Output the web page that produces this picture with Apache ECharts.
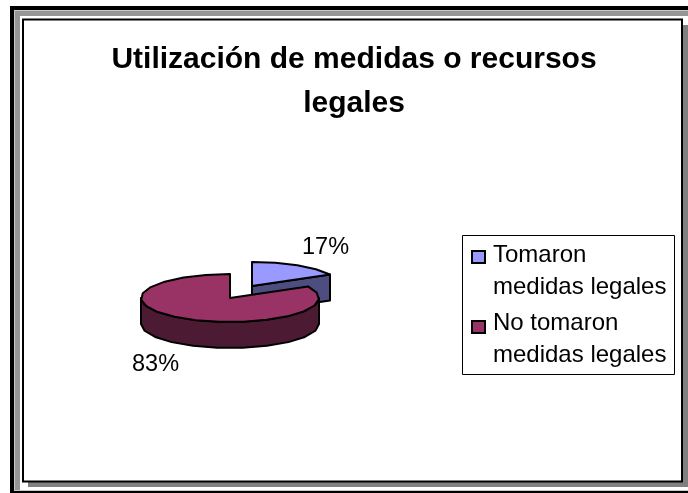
<!DOCTYPE html>
<html>
<head>
<meta charset="utf-8">
<style>
  html, body { margin: 0; padding: 0; background: #fff; }
  #chart { width: 688px; height: 493px; }
</style>
<script src="https://cdn.jsdelivr.net/npm/echarts@6/dist/echarts.min.js"></script>
</head>
<body>
<div id="chart"></div>
<script>
const titleText = 'Utilización de medidas o recursos\nlegales';
const categories = ['Tomaron\nmedidas legales', 'No tomaron\nmedidas legales'];
const values = [17, 83];
const topColors = ['#9999ff', '#993366'];
const sideColors = ['#4d4d80', '#4d1a33'];

const myChart = echarts.init(document.getElementById('chart'));

// pie geometry of the tilted disc
const cx = 230, cy = 298, rx = 89, ry = 24, depth = 26;
const explode = [{ dx: 22, dy: -12 }, { dx: 0, dy: 0 }];
const total = values.reduce((a, b) => a + b, 0);

// faceted rim, the original is a coarse polygon
function slicePoints(start, end, ox, oy) {
  const pts = [];
  const n = Math.max(2, Math.round((end - start) / 0.28));
  for (let i = 0; i <= n; i++) {
    const a = start + (end - start) * i / n;
    pts.push([ox + Math.sin(a) * rx, oy - Math.cos(a) * ry]);
  }
  return pts;
}

function renderSlice(params, api) {
  const i = params.dataIndex;
  const before = values.slice(0, i).reduce((a, b) => a + b, 0);
  const start = before / total * Math.PI * 2;
  const end = (before + api.value(0)) / total * Math.PI * 2;
  const ox = cx + explode[i].dx, oy = cy + explode[i].dy;
  const style = { stroke: '#000', lineWidth: 2, lineJoin: 'round' };
  const rim = slicePoints(start, end, ox, oy);
  const children = [];

  if (i === 0) {
    // cut wall of the small slice
    const last = rim[rim.length - 1];
    children.push({
      type: 'polygon',
      shape: { points: [[ox, oy], last, [last[0], last[1] + depth], [ox, oy + depth]] },
      style: { ...style, fill: sideColors[i] },
    });
  } else {
    // front wall, only the part facing the viewer
    const wall = slicePoints(Math.PI / 2, Math.PI * 1.5, ox, oy);
    children.push({
      type: 'polygon',
      shape: { points: wall.concat(wall.map((p) => [p[0], p[1] + depth]).reverse()) },
      style: { ...style, fill: sideColors[i] },
    });
  }
  children.push({
    type: 'polygon',
    shape: { points: [[ox, oy]].concat(rim) },
    style: { ...style, fill: topColors[i] },
  });
  return { type: 'group', children };
}

function bar(x, y, width, height, fill, z) {
  return { type: 'rect', silent: true, z: z, shape: { x, y, width, height }, style: { fill } };
}

const options = {
  backgroundColor: '#fff',
  animation: false,
  title: {
    text: titleText,
    left: 349,
    top: 33,
    textAlign: 'center',
    textStyle: {
      fontFamily: 'Liberation Sans',
      fontSize: 30,
      fontWeight: 'bold',
      color: '#000',
      lineHeight: 44,
    },
  },
  graphic: [
    // frame: black rule, light line, gray band, then the panel with its shadow
    bar(10, 6, 678, 487, '#000', -9),
    bar(14, 10, 674, 481, '#c8c8c8', -8),
    bar(15, 11, 673, 479, '#969696', -7),
    bar(20, 16, 668, 474, '#fff', -6),
    bar(28, 25, 660, 462, '#808080', -5),
    { type: 'rect', silent: true, z: -4, shape: { x: 23, y: 19.5, width: 659, height: 462 }, style: { fill: '#fff', stroke: '#000', lineWidth: 2 } },
    // legend box
    { type: 'rect', silent: true, z: -3, shape: { x: 462.5, y: 235.5, width: 212, height: 139 }, style: { fill: '#fff', stroke: '#000', lineWidth: 1 } },
    { type: 'rect', silent: true, shape: { x: 472, y: 251, width: 13, height: 12 }, style: { fill: topColors[0], stroke: '#000', lineWidth: 2 } },
    { type: 'rect', silent: true, shape: { x: 472, y: 321, width: 13, height: 12 }, style: { fill: topColors[1], stroke: '#000', lineWidth: 2 } },
    { type: 'text', silent: true, style: { x: 493, y: 239, text: categories[0], fontFamily: 'Liberation Sans', fontSize: 24, lineHeight: 32, fill: '#000' } },
    { type: 'text', silent: true, style: { x: 493, y: 307, text: categories[1], fontFamily: 'Liberation Sans', fontSize: 24, lineHeight: 32, fill: '#000' } },
    // data labels
    { type: 'text', silent: true, style: { x: 302, y: 236, text: values[0] + '%', fontFamily: 'Liberation Sans', fontSize: 23.5, fill: '#000' } },
    { type: 'text', silent: true, style: { x: 132, y: 353, text: values[1] + '%', fontFamily: 'Liberation Sans', fontSize: 23.5, fill: '#000' } },
  ],
  series: [
    {
      type: 'custom',
      coordinateSystem: 'none',
      renderItem: renderSlice,
      data: values.map((v) => [v]),
    },
  ],
};
myChart.setOption(options);
</script>
</body>
</html>
